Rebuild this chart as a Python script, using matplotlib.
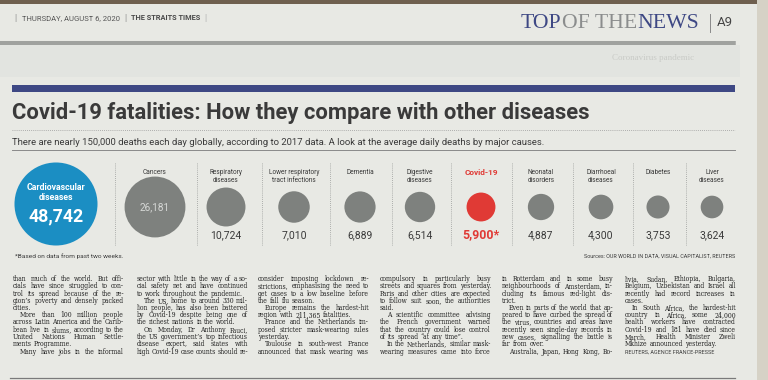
import matplotlib
matplotlib.use("Agg")
import matplotlib.pyplot as plt
from matplotlib.patches import Circle, Rectangle
from matplotlib.font_manager import FontProperties
import numpy as np

# ---------------- data ----------------
categories = ["Cardiovascular\ndiseases", "Cancers", "Respiratory\ndiseases",
              "Lower respiratory\ntract infections", "Dementia", "Digestive\ndiseases",
              "Covid-19", "Neonatal\ndisorders", "Diarrhoeal\ndiseases", "Diabetes",
              "Liver\ndiseases"]
deaths = [48742, 26181, 10724, 7010, 6889, 6514, 5900, 4887, 4300, 3753, 3624]
highlight = "Covid-19"

title = "Covid-19 fatalities: How they compare with other diseases"
subtitle = ("There are nearly 150,000 deaths each day globally, according to 2017 data. "
            "A look at the average daily deaths by major causes.")
footnote = "*Based on data from past two weeks."
sources = "Sources: OUR WORLD IN DATA, VISUAL CAPITALIST, REUTERS"
header_date = "THURSDAY, AUGUST 6, 2020"
header_paper = "THE STRAITS TIMES"
section_words = ["TOP", "OF THE", "NEWS"]
page_no = "A9"
byline = "REUTERS, AGENCE FRANCE-PRESSE"

col1 = ["than much of the world. But offi-",
        "cials have since struggled to con-",
        "trol its spread because of the re-",
        "gion\u2019s poverty and densely packed",
        "cities.",
        "\tMore than 100 million people",
        "across Latin America and the Carib-",
        "bean live in slums, according to the",
        "United Nations Human Settle-",
        "ments Programme.",
        "\tMany have jobs in the informal"]
col2 = ["sector with little in the way of a so-",
        "cial safety net and have continued",
        "to work throughout the pandemic.",
        "\tThe US, home to around 330 mil-",
        "lion people, has also been battered",
        "by Covid-19 despite being one of",
        "the richest nations in the world.",
        "\tOn Monday, Dr Anthony Fauci,",
        "the US government\u2019s top infectious",
        "disease expert, said states with",
        "high Covid-19 case counts should re-"]
col3 = ["consider imposing lockdown re-",
        "strictions, emphasising the need to",
        "get cases to a low baseline before",
        "the fall flu season.",
        "\tEurope remains the hardest-hit",
        "region with 211,365 fatalities.",
        "\tFrance and the Netherlands im-",
        "posed stricter mask-wearing rules",
        "yesterday.",
        "\tToulouse in south-west France",
        "announced that mask wearing was"]
col4 = ["compulsory in particularly busy",
        "streets and squares from yesterday.",
        "Paris and other cities are expected",
        "to follow suit soon, the authorities",
        "said.",
        "\tA scientific committee advising",
        "the French government warned",
        "that the country could lose control",
        "of its spread \u201cat any time\u201d.",
        "\tIn the Netherlands, similar mask-",
        "wearing measures came into force"]
col5 = ["in Rotterdam and in some busy",
        "neighbourhoods of Amsterdam, in-",
        "cluding its famous red-light dis-",
        "trict.",
        "\tEven in parts of the world that ap-",
        "peared to have curbed the spread of",
        "the virus, countries and areas have",
        "recently seen single-day records in",
        "new cases, signalling the battle is",
        "far from over.",
        "\tAustralia, Japan, Hong Kong, Bo-"]
col6 = ["livia, Sudan, Ethiopia, Bulgaria,",
        "Belgium, Uzbekistan and Israel all",
        "recently had record increases in",
        "cases.",
        "\tIn South Africa, the hardest-hit",
        "country in Africa, some 24,000",
        "health workers have contracted",
        "Covid-19 and 181 have died since",
        "March, Health Minister Zweli",
        "Mkhize announced yesterday."]
article_columns = [col1, col2, col3, col4, col5, col6]

# ---------------- styling / layout ----------------
PAPER = "#e8e9e4"
INK = "#333333"
GREY_CIRCLE = "#7e817e"
BLUE = "#1b8ec3"
RED = "#e03a35"
NAVY = "#3e4884"
NARROW = ["Liberation Sans Narrow", "Roboto", "DejaVu Sans"]
SANS = ["Roboto", "DejaVu Sans"]
SERIF = ["Liberation Serif", "DejaVu Serif"]
BODY = ["DejaVu Serif"]
BODY_STRETCH = "condensed"

W, H = 768, 380
fig = plt.figure(figsize=(W / 100, H / 100), dpi=100)
fig.patch.set_facecolor(PAPER)
ax = fig.add_axes([0, 0, 1, 1])
ax.set_xlim(0, W)
ax.set_ylim(H, 0)
ax.axis("off")
renderer = fig.canvas.get_renderer()


def width_px(s, family, size, weight="normal", stretch="normal"):
    fp = FontProperties(family=family, size=size, weight=weight, stretch=stretch)
    w, h, d = renderer.get_text_width_height_descent(s, fp, ismath=False)
    return w


def fit_size(s, target, family, weight="normal"):
    return 10.0 * target / width_px(s, family, 10.0, weight)


def put(x, y, s, target_w, family, weight="normal", color=INK, ha="left", va="center", size=None, **kw):
    if size is None:
        size = fit_size(s, target_w, family, weight)
    ax.text(x, y, s, fontsize=size, family=family, fontweight=weight, color=color,
            ha=ha, va=va, **kw)
    return size


# paper edges / tone
ax.add_patch(Rectangle((0, 0), W, 3.5, color="#6f604f", lw=0, zorder=0))
ax.add_patch(Rectangle((757, 0), 11, H, color="#d6d2c6", lw=0, zorder=0))
ax.add_patch(Rectangle((0, 45), 740, 32, color="#e2e4e0", lw=0, zorder=0))

# faint show-through text
ax.text(612, 58, "Coronavirus pandemic", fontsize=6.5, family=SERIF, color="#c9cbc7",
        va="center", ha="left", zorder=0)

# ---------------- masthead ----------------
hy = 18
ax.text(15, hy, "|", fontsize=6.5, color="#8a8a8a", ha="center", va="center", family=SANS)
put(22, hy, header_date, 97, NARROW, color="#555555")
ax.text(125, hy, "|", fontsize=6.5, color="#8a8a8a", ha="center", va="center", family=SANS)
put(131, hy, header_paper, 69, NARROW, weight="bold", color="#4a4a4a")
ax.text(205, hy, "|", fontsize=6.5, color="#b0b0b0", ha="center", va="center", family=SANS)

sec_total = sum(width_px(w, SERIF, 10) for w in section_words)
sec_size = 10 * 178 / sec_total
x = 521
for w, c in zip(section_words, [NAVY, "#8b8d8d", NAVY]):
    ax.text(x, 23, w, fontsize=sec_size, family=SERIF, color=c, ha="left", va="center")
    x += width_px(w, SERIF, sec_size)
ax.plot([710, 710], [14, 32], color="#8a8a8a", lw=0.7)
put(717, 23, page_no, 16, SANS, color="#444444")

ax.plot([0, 735], [41.5, 41.5], color="#8b8d8b", lw=1.1)
ax.plot([0, 735], [43.8, 43.8], color="#8b8d8b", lw=1.1)

# ---------------- graphic header ----------------
ax.add_patch(Rectangle((12, 85), 723, 7, color=NAVY, lw=0))
put(12, 113, title, 580, SANS, weight="bold", color="#3a3a3a")
ax.plot([12, 735], [129.5, 129.5], color="#9a9a9a", lw=0.6, ls=(0, (1, 1.5)))
put(12, 142.5, subtitle, 530, SANS, color="#3a3a3a")
ax.plot([12, 735], [149.5, 149.5], color="#8a8a8a", lw=0.7)

# ---------------- bubbles ----------------
col_x = [56, 155, 226, 294, 360, 420, 481, 541, 601, 658, 712]
sep_x = [115, 197, 262, 330, 392, 451, 512, 573, 633, 686]
k = 0.188
for sx in sep_x:
    ax.plot([sx, sx], [163, 245], color="#999b99", lw=0.6, ls=(0, (1, 1.5)))

label_size = fit_size("Lower respiratory", 51, NARROW)
value_size = fit_size("10,724", 31, NARROW)

for i, (cat, v) in enumerate(zip(categories, deaths)):
    r = k * v ** 0.5
    cx = col_x[i]
    txt = f"{v:,}"
    if i == 0:
        cy = 204
        ax.add_patch(Circle((cx, cy), r, color=BLUE, lw=0))
        l1, l2 = cat.split("\n")
        s1 = fit_size(l1, 59, SANS, "bold")
        ax.text(cx, 187, l1, fontsize=s1, family=SANS, fontweight="bold", color="white",
                ha="center", va="center")
        ax.text(cx, 197.5, l2, fontsize=s1, family=SANS, fontweight="bold", color="white",
                ha="center", va="center")
        put(cx, 216, txt, 55, SANS, weight="bold", color="white", ha="center")
        continue
    cy = 207
    is_hi = cat == highlight
    ax.add_patch(Circle((cx, cy), r, color=RED if is_hi else GREY_CIRCLE, lw=0))
    lines = cat.split("\n")
    for j, ln in enumerate(lines):
        if is_hi:
            put(cx, 172.5, ln, 34, SANS, weight="bold", color=RED, ha="center")
        else:
            ax.text(cx, 172.5 + 8 * j, ln, fontsize=label_size, family=NARROW, color="#3a3a3a",
                    ha="center", va="center")
    if i == 1:
        put(cx, 207, txt, 30, NARROW, color="#d6d8d6", ha="center")
    elif is_hi:
        put(cx, 235, txt + "*", 37, SANS, weight="bold", color=RED, ha="center")
    else:
        ax.text(cx, 235, txt, fontsize=value_size, family=NARROW, color="#3a3a3a",
                ha="center", va="center")

put(15, 256, footnote, 108, NARROW, color="#3a3a3a")
put(735, 256, sources, 151, NARROW, color="#3a3a3a", ha="right")

# ---------------- article text ----------------
col_left = [13, 137, 258, 380, 502, 625]
col_w = 111
indent = 7
base0, dy = 281.0, 7.25


def bw(s, size):
    return width_px(s, BODY, size, stretch=BODY_STRETCH)


def is_para_end(col, li, ci):
    nxt = col[li + 1] if li + 1 < len(col) else None
    return (nxt is not None and nxt.startswith("\t")) or (ci == 5 and nxt is None)


def natural_width(line, size):
    words = line.strip().split()
    sp = bw("a a", size) - 2 * bw("a", size)
    return sum(bw(w, size) for w in words) + sp * (len(words) - 1) + \
        (indent * size / 10 if line.startswith("\t") else 0)


just_nat = [natural_width(l, 10) for ci, c in enumerate(article_columns)
            for li, l in enumerate(c) if not is_para_end(c, li, ci)]
art_size = 10 * col_w / np.percentile(just_nat, 88)
space_w = bw("a a", art_size) - 2 * bw("a", art_size)

for ci, col in enumerate(article_columns):
    x0 = col_left[ci]
    for li, line in enumerate(col):
        y = base0 + dy * li
        ind = indent if line.startswith("\t") else 0
        words = line.strip().split()
        ws = [bw(w, art_size) for w in words]
        if not is_para_end(col, li, ci) and len(words) > 1:
            gap = max((col_w - ind - sum(ws)) / (len(words) - 1), 0.45 * space_w)
        else:
            gap = space_w
        x = x0 + ind
        for w, wd in zip(words, ws):
            ax.text(x, y, w, fontsize=art_size, family=BODY, fontstretch=BODY_STRETCH,
                    color="#222222", ha="left", va="baseline")
            x += wd + gap
    if ci == 5:
        put(x0, base0 + dy * len(col), byline, 88, NARROW, color="#3a3a3a", va="baseline")

ax.plot([10, 735], [377.5, 377.5], color="#7a7a7a", lw=0.9)

fig.savefig("out.png", dpi=100, facecolor=PAPER)
